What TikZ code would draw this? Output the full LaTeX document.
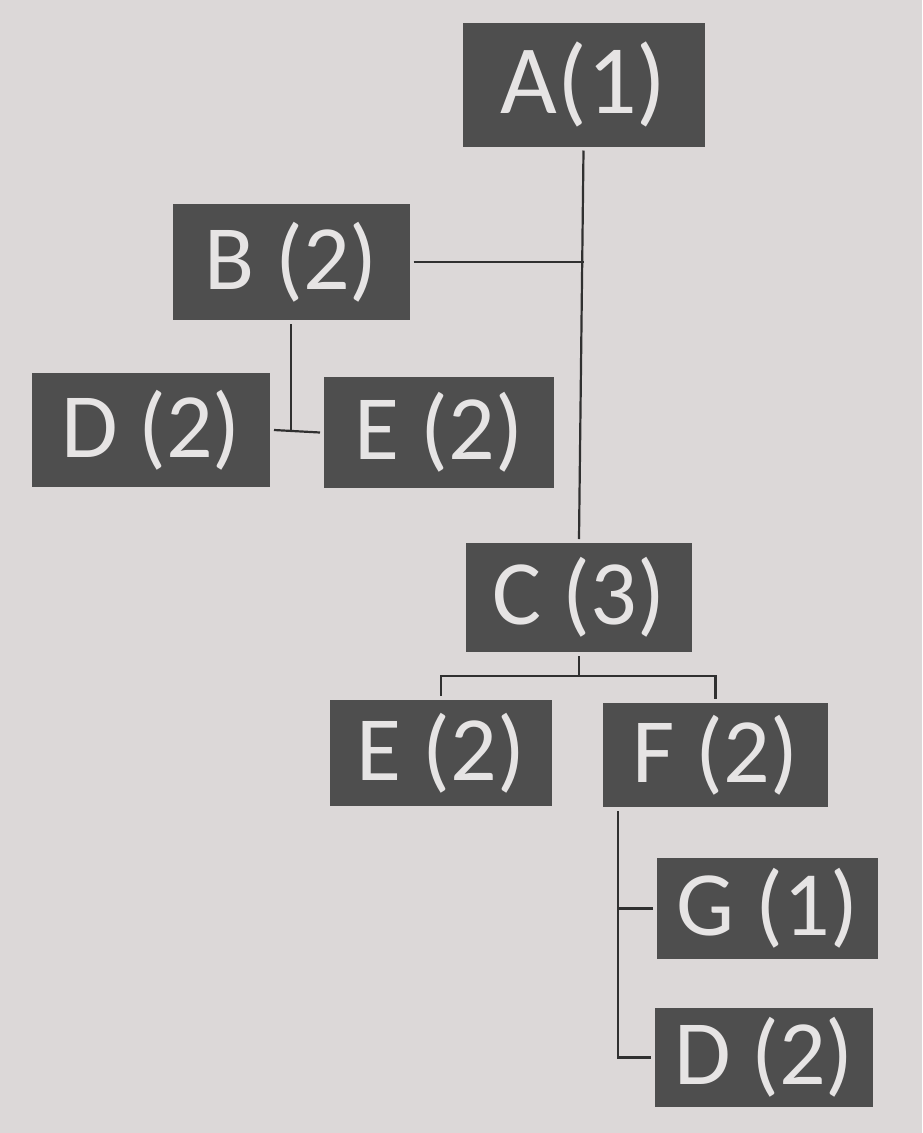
\documentclass[tikz,border=0pt]{standalone}
\usepackage{fontspec}
\setmainfont{Carlito}
\usepackage{xcolor}
\definecolor{paper}{HTML}{DCD8D8}
\definecolor{boxgray}{HTML}{4E4E4E}
\definecolor{inkgray}{HTML}{E6E4E4}
\definecolor{linegray}{HTML}{303030}

\begin{document}
\begin{tikzpicture}[x=1pt, y=-1pt, box/.style = {fill=boxgray, text=inkgray, inner sep=0pt, outer sep=4pt, font=\fontsize{92}{92}\selectfont}, link/.style = {draw=linegray, line width=2.2pt}]
	\fill[paper] (0,0) rectangle (922,1133);
	\useasboundingbox (0,0) rectangle (922,1133);
	\node[box, minimum width=242pt, minimum height=124pt, font=\fontsize{98}{98}\selectfont] (A) at (583.5,84.5) {A(1)};
	\node[box, minimum width=237pt, minimum height=116pt] (B) at (291,262) {B (2)};
	\node[box, minimum width=238pt, minimum height=114pt] (D1) at (151,430) {D (2)};
	\node[box, minimum width=230pt, minimum height=111pt] (E1) at (439,432.5) {E (2)};
	\node[box, minimum width=226pt, minimum height=109pt] (C) at (579,597.5) {C (3)};
	\node[box, minimum width=222pt, minimum height=106pt] (E2) at (441,753) {E (2)};
	\node[box, minimum width=225pt, minimum height=104pt] (F) at (715.5,755) {F (2)};
	\node[box, minimum width=221pt, minimum height=101pt] (G) at (767.5,908.5) {G (1)};
	\node[box, minimum width=218pt, minimum height=99pt] (D2) at (764,1057.5) {D (2)};
	\coordinate (cfork) at ([yshift=-20pt]C.south);
	\coordinate (ftrunk) at ([xshift=19pt]F.south west);
	\draw[link] (A.south) -- (C.north);
	\draw[link] (B.east) -- (B.east -| A.south);
	\draw[link] (B.south) -- (B.south |- D1.east);
	\draw[link] (D1.east) -- (E1.west);
	\draw[link] (C.south) -- (cfork);
	\draw[link] (E2.north) |- (cfork) -| (F.north);
	\draw[link] (ftrunk) |- (D2.west);
	\draw[link] (G.west) -- (G.west -| ftrunk);
\end{tikzpicture}
\end{document}
